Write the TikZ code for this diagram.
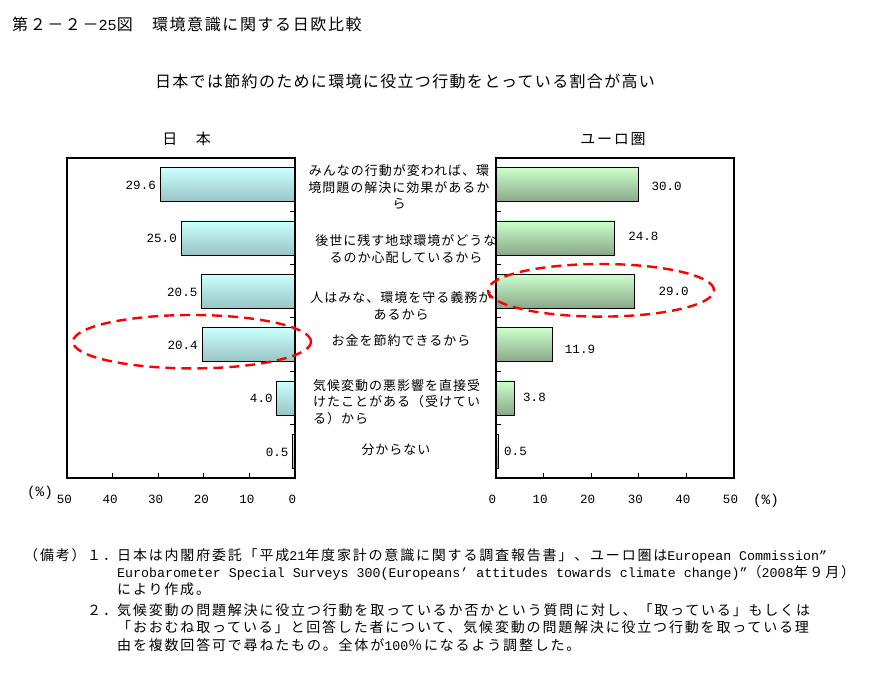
\documentclass[tikz,border=0pt]{standalone}
\usepackage{fontspec}
\usepackage{xcolor}
\usepackage{tikz}
\setmainfont{Noto Sans CJK JP}
\newfontfamily\titlefam[LetterSpace=10]{Noto Sans CJK JP}
\newfontfamily\subfam[LetterSpace=8.3]{Noto Sans CJK JP}
\newfontfamily\headfam[LetterSpace=12]{Noto Sans CJK JP}
\newfontfamily\catfam[LetterSpace=7.7]{Noto Sans CJK JP}
\newfontfamily\notefam[LetterSpace=13]{Noto Sans CJK JP}
\newfontfamily\digfont[Scale=0.95]{Liberation Mono}
\newcommand\han[1]{{\digfont #1}}
\definecolor{jtop}{HTML}{CCFFFF}
\definecolor{jbot}{HTML}{99C4C4}
\definecolor{etop}{HTML}{CCFFCC}
\definecolor{ebot}{HTML}{88A888}

\begin{document}
\begin{tikzpicture}[
    x=1pt, y=-1pt,
    frame/.style={draw, line width=2pt},
    jbar/.style={draw, line width=0.9pt, top color=jtop, bottom color=jbot},
    ebar/.style={draw, line width=0.9pt, top color=etop, bottom color=ebot},
    val/.style={font=\fontsize{13.2}{15}\selectfont\digfont, inner sep=0pt},
    cat/.style={font=\fontsize{13}{16.3}\selectfont\catfam, align=center, inner sep=0pt},
    head/.style={font=\fontsize{15}{18}\selectfont\headfam, inner sep=0pt},
    note/.style={font=\fontsize{14}{17}\selectfont\notefam, anchor=base west, inner sep=0pt},
    hilite/.style={draw=red, line width=2.4pt, dash pattern=on 10pt off 6pt}
]
    \useasboundingbox (0,0) rectangle (870,674);
    \fill[white] (0,0) rectangle (870,674);

    % Title and message
    \node[font=\fontsize{16}{19}\selectfont\titlefam, anchor=base west, inner sep=0pt] (title) at (12,31) {第２－２－\han{25}図　環境意識に関する日欧比較};
    \node[font=\fontsize{16}{19}\selectfont\subfam, inner sep=0pt] (msg) at (405,81) {日本では節約のために環境に役立つ行動をとっている割合が高い};

    % Chart headers
    \node[head] (jp) at (186.7,139) {日　本};
    \node[head] (eu) at (613,139) {ユーロ圏};

    % Japan bars
    \foreach \pc [count=\i] in {29.6,25.0,20.5,20.4,4.0,0.5} {
        \draw[jbar] ({295-4.56*\pc},{131.33+53.33*\i-17}) rectangle (295,{131.33+53.33*\i+17});
        \node[val, anchor=east] (jv\i) at ({295-4.56*\pc-4},{131.33+53.33*\i+0.7}) {\pc};
    }

    % Euro area bars
    \foreach \pc [count=\i] in {30.0,24.8,29.0,11.9,3.8,0.5}
        \draw[ebar] (496,{131.33+53.33*\i-17}) rectangle ({496+4.76*\pc},{131.33+53.33*\i+17});
    \foreach \pc/\lx/\ly [count=\i] in {30.0/666.7/186.7, 24.8/643.3/236.7, 29.0/673.7/291.7,
        11.9/580/349, 3.8/534.5/397.7, 0.5/515.5/451.7}
        \node[val] (ev\i) at (\lx,\ly) {\pc};

    % Frames and ticks
    \draw[frame] (67,158) rectangle (295,478);
    \draw[frame] (496,158) rectangle (734,478);
    \foreach \k in {1,...,5} {
        \draw[line width=1pt] (295,{158+53.33*\k}) -- ++(-5,0);
        \draw[line width=1pt] (496,{158+53.33*\k}) -- ++(5,0);
    }
    \foreach \t in {10,20,30,40} {
        \draw[line width=1pt] ({295-4.56*\t},478) -- ++(0,-5);
        \draw[line width=1pt] ({496+4.76*\t},478) -- ++(0,-5);
    }
    \foreach \t in {0,10,...,50} {
        \node[val] (jx\t) at ({292.5-4.56*\t},499) {\t};
        \node[val] (ex\t) at ({492.5+4.76*\t},499) {\t};
    }
    \node[val, font=\fontsize{15}{18}\selectfont\digfont] (junit) at (40,493) {(\%)};
    \node[val, font=\fontsize{15}{18}\selectfont\digfont] (eunit) at (766,501) {(\%)};

    % Reasons
    \node[cat] (c1) at (399,187) {みんなの行動が変われば、環\\境問題の解決に効果があるか\\ら};
    \node[cat] (c2) at (406,249) {後世に残す地球環境がどうな\\るのか心配しているから};
    \node[cat] (c3) at (401,306) {人はみな、環境を守る義務が\\あるから};
    \node[cat] (c4) at (401,341) {お金を節約できるから};
    \node[cat, align=left, anchor=west] (c5) at (313,402) {気候変動の悪影響を直接受\\けたことがある（受けてい\\る）から};
    \node[cat] (c6) at (396,450) {分からない};

    % Highlights
    \draw[hilite] (192,341.7) ellipse [x radius=119pt, y radius=26.7pt];
    \draw[hilite] (601,290.3) ellipse [x radius=113pt, y radius=26.3pt];

    % Notes
    \node[note] (bikou) at (24,560) {（備考）};
    \node[note] (n1) at (87,560) {１．};
    \node[note] (l1) at (117,560) {日本は内閣府委託「平成\han{21}年度家計の意識に関する調査報告書」、ユーロ圏は\han{European Commission”}};
    \node[note] (l2) at (117,577.5) {\han{Eurobarometer Special Surveys 300(Europeans’ attitudes towards climate change)”}（\han{2008}年９月）};
    \node[note] (l3) at (117,594.5) {により作成。};
    \node[note] (n2) at (87,615) {２．};
    \node[note] (l4) at (117,615) {気候変動の問題解決に役立つ行動を取っているか否かという質問に対し、「取っている」もしくは};
    \node[note] (l5) at (117,632.5) {「おおむね取っている」と回答した者について、気候変動の問題解決に役立つ行動を取っている理};
    \node[note] (l6) at (117,650) {由を複数回答可で尋ねたもの。全体が\han{100}％になるよう調整した。};
\end{tikzpicture}
\end{document}
